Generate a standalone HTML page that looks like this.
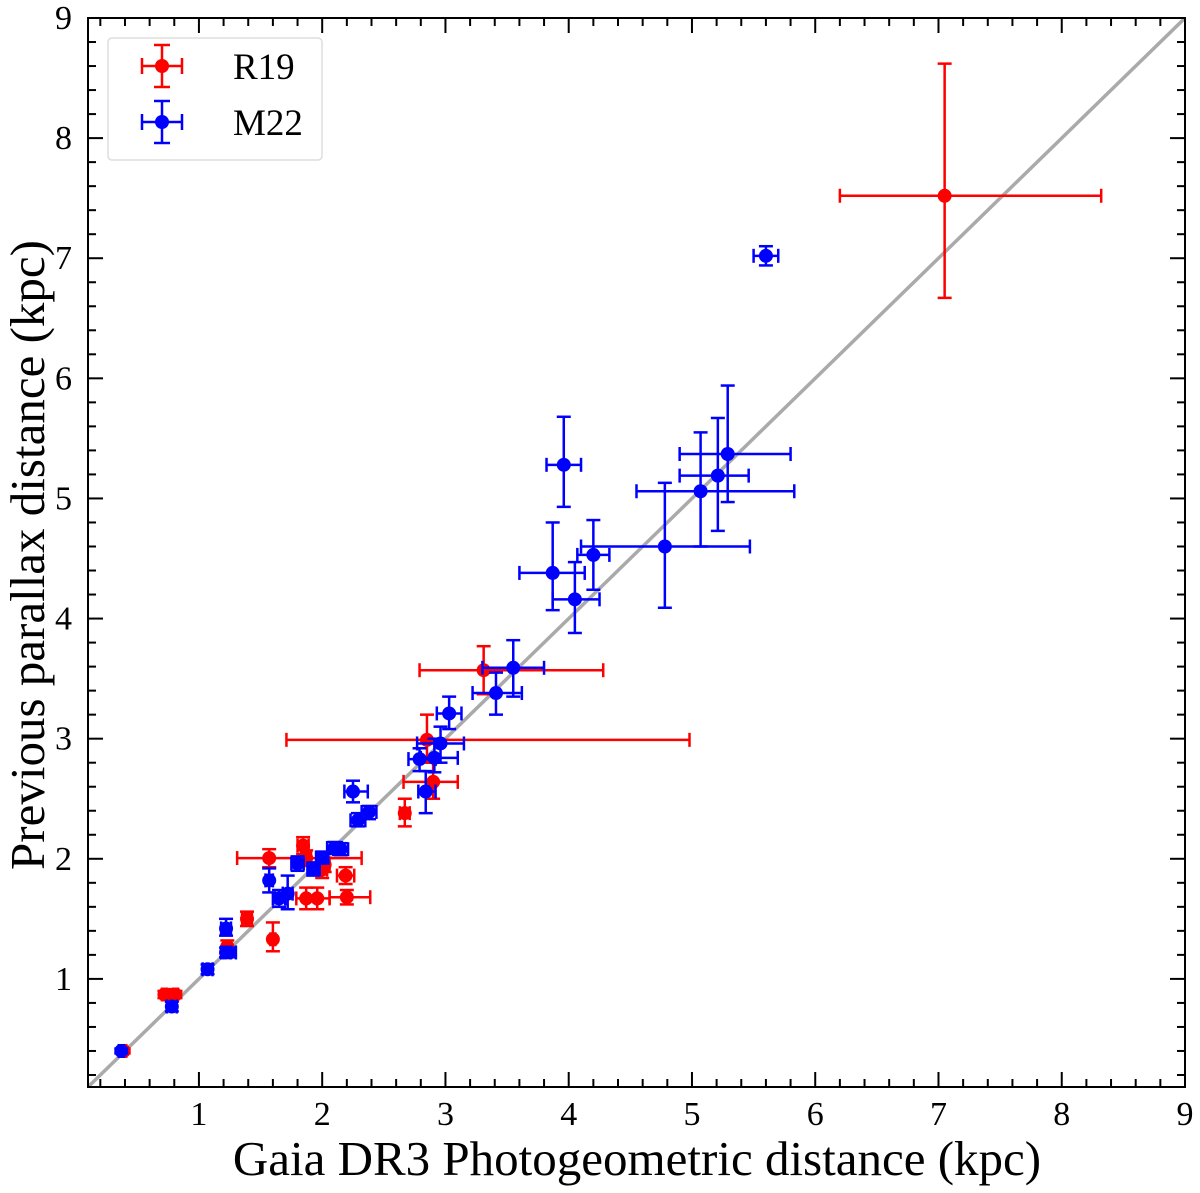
<!DOCTYPE html>
<html><head><meta charset="utf-8"><style>
html,body{margin:0;padding:0;background:#fff;}
svg{display:block;font-family:"Liberation Serif",serif;}
</style></head><body>
<svg id="chart" width="1200" height="1193" viewBox="0 0 1200 1193" xmlns="http://www.w3.org/2000/svg"></svg>
<script>
// R19 series: x, y, x-low, x-high, y-low, y-high (kpc)
const r19X   =[7.05,3.31,2.85,2.90,2.67,1.57,1.845,1.87,2.00,2.02,2.19,1.87,1.96,2.20,1.39,1.60,0.72,0.756,0.81,0.39,1.23];
const r19Y   =[7.52,3.57,2.99,2.64,2.38,2.006,2.11,2.006,1.91,1.95,1.86,1.67,1.67,1.68,1.50,1.33,0.87,0.867,0.87,0.40,1.27];
const r19XLo =[6.20,2.79,1.71,2.66,2.63,1.31,1.80,1.83,1.96,1.98,2.12,1.79,1.86,2.06,1.35,1.58,0.70,0.74,0.79,0.37,1.20];
const r19XHi =[8.32,4.28,4.98,3.10,2.71,2.32,1.89,1.91,2.04,2.06,2.26,1.95,2.06,2.39,1.43,1.62,0.74,0.77,0.83,0.41,1.26];
const r19YLo =[6.67,3.37,2.80,2.50,2.27,1.93,2.04,1.94,1.84,1.89,1.79,1.58,1.58,1.62,1.44,1.23,0.84,0.84,0.84,0.38,1.22];
const r19YHi =[8.62,3.77,3.20,2.80,2.50,2.08,2.18,2.07,1.98,2.01,1.93,1.76,1.76,1.74,1.56,1.47,0.90,0.90,0.90,0.42,1.32];
// M22 series
const m22X   =[5.60,3.96,5.29,5.21,5.07,4.78,4.20,3.87,4.05,3.55,3.41,3.03,2.96,2.79,2.91,2.84,2.25,2.29,2.38,1.80,1.93,2.00,2.10,2.15,1.57,1.65,1.72,1.22,1.25,1.22,1.07,0.78,0.37];
const m22Y   =[7.02,5.28,5.37,5.19,5.06,4.60,4.53,4.38,4.16,3.59,3.38,3.21,2.96,2.83,2.84,2.56,2.56,2.32,2.39,1.96,1.91,2.01,2.09,2.08,1.82,1.67,1.71,1.42,1.22,1.22,1.08,0.77,0.40];
const m22XLo =[5.50,3.82,4.90,4.90,4.55,4.10,4.07,3.60,3.87,3.30,3.22,2.93,2.77,2.70,2.80,2.78,2.18,2.23,2.32,1.75,1.88,1.95,2.04,2.09,1.54,1.60,1.68,1.18,1.20,1.18,1.03,0.74,0.35];
const m22XHi =[5.70,4.10,5.80,5.46,5.83,5.47,4.33,4.13,4.25,3.80,3.62,3.13,3.15,2.92,3.10,2.92,2.37,2.35,2.44,1.85,1.98,2.05,2.16,2.21,1.60,1.70,1.76,1.26,1.30,1.26,1.11,0.82,0.39];
const m22YLo =[6.94,4.93,4.97,4.73,4.60,4.09,4.24,4.07,3.88,3.35,3.20,3.08,2.80,2.73,2.72,2.38,2.47,2.27,2.33,1.90,1.86,1.96,2.04,2.03,1.72,1.60,1.58,1.36,1.18,1.18,1.04,0.73,0.38];
const m22YHi =[7.10,5.68,5.94,5.67,5.55,5.13,4.82,4.80,4.47,3.82,3.55,3.35,3.10,2.92,3.00,2.73,2.65,2.38,2.44,2.02,1.97,2.06,2.14,2.13,1.92,1.74,1.86,1.50,1.26,1.26,1.12,0.81,0.42];
const xTicks=[1,2,3,4,5,6,7,8,9];
const yTicks=[1,2,3,4,5,6,7,8,9];

const NS="http://www.w3.org/2000/svg";
const svg=document.getElementById('chart');
const L=88,R=1185,T=18,B=1087,MIN=0.1,MAX=9;
const xs=v=>L+(v-MIN)/(MAX-MIN)*(R-L);
const ys=v=>B-(v-MIN)/(MAX-MIN)*(B-T);
function el(tag,attrs,parent){const e=document.createElementNS(NS,tag);for(const k in attrs)e.setAttribute(k,attrs[k]);(parent||svg).appendChild(e);return e;}

const clip=el('clipPath',{id:'pc'});el('rect',{x:L,y:T,width:R-L,height:B-T},clip);
const plot=el('g',{'clip-path':'url(#pc)'});


const diag=el('line',{x1:xs(MIN),y1:ys(MIN),x2:xs(MAX),y2:ys(MAX),stroke:'#aaaaaa','stroke-width':3.5},plot);



function drawSeries(X,Y,XL,XH,YL,YH,color,name){
  const g=el('g',{},plot);
  
  
  for(let i=0;i<X.length;i++){
    const p=el('g',{stroke:color,'stroke-width':2.5,fill:color},g);
    
    
    const cx=xs(X[i]),cy=ys(Y[i]),x1=xs(XL[i]),x2=xs(XH[i]),y1=ys(YH[i]),y2=ys(YL[i]);
    el('line',{x1:x1,y1:cy,x2:x2,y2:cy},p);
    el('line',{x1:cx,y1:y1,x2:cx,y2:y2},p);
    el('line',{x1:x1,y1:cy-7,x2:x1,y2:cy+7},p);
    el('line',{x1:x2,y1:cy-7,x2:x2,y2:cy+7},p);
    el('line',{x1:cx-7,y1:y1,x2:cx+7,y2:y1},p);
    el('line',{x1:cx-7,y1:y2,x2:cx+7,y2:y2},p);
    el('circle',{cx:cx,cy:cy,r:7,stroke:'none'},p);
  }
}
drawSeries(r19X,r19Y,r19XLo,r19XHi,r19YLo,r19YHi,'#ff0000','r19');
drawSeries(m22X,m22Y,m22XLo,m22XHi,m22YLo,m22YHi,'#0000ff','m22');

const frame=el('rect',{x:L,y:T,width:R-L,height:B-T,fill:'none',stroke:'#000','stroke-width':2});


const tg=el('g',{stroke:'#000','stroke-width':2});


for(let k=1;k<=45;k++){
  const v=k*0.2; if(v<MIN||v>MAX+1e-9) continue;
  const major=Math.abs(v-Math.round(v))<1e-6, len=major?15:8;
  const x=xs(v),y=ys(v);
  el('line',{x1:x,y1:B,x2:x,y2:B-len},tg);
  el('line',{x1:x,y1:T,x2:x,y2:T+len},tg);
  el('line',{x1:L,y1:y,x2:L+len,y2:y},tg);
  el('line',{x1:R,y1:y,x2:R-len,y2:y},tg);
}
xTicks.forEach(v=>{
  const t=el('text',{x:xs(v),y:B+38,'text-anchor':'middle','font-size':34});
  t.textContent=v;
  
  
});
yTicks.forEach(v=>{
  const t=el('text',{x:L-16,y:ys(v)+11,'text-anchor':'end','font-size':34});
  t.textContent=v;
  
  
});
const xt=el('text',{x:637,y:1175,'text-anchor':'middle','font-size':49});
xt.textContent='Gaia DR3 Photogeometric distance (kpc)';


const yt=el('text',{x:0,y:0,'text-anchor':'middle','font-size':49,transform:'translate(44,555) rotate(-90)'});
yt.textContent='Previous parallax distance (kpc)';



const lg=el('g',{});


el('rect',{x:108,y:38,width:214,height:122,rx:4,fill:'#fff',stroke:'#dddddd','stroke-width':1.5},lg);
[['R19','#ff0000',66],['M22','#0000ff',122]].forEach(([lab,c,y])=>{
  const e=el('g',{stroke:c,'stroke-width':2.5,fill:c},lg);
  
  
  el('line',{x1:142,y1:y,x2:182,y2:y},e);
  el('line',{x1:142,y1:y-8,x2:142,y2:y+8},e);
  el('line',{x1:182,y1:y-8,x2:182,y2:y+8},e);
  el('line',{x1:162,y1:y-21,x2:162,y2:y+21},e);
  el('line',{x1:154,y1:y-21,x2:170,y2:y-21},e);
  el('line',{x1:154,y1:y+21,x2:170,y2:y+21},e);
  el('circle',{cx:162,cy:y,r:7,stroke:'none'},e);
  const t=el('text',{x:233,y:y+13,'font-size':37,fill:'#000',stroke:'none'},e);
  t.textContent=lab;
});
</script>
</body></html>
